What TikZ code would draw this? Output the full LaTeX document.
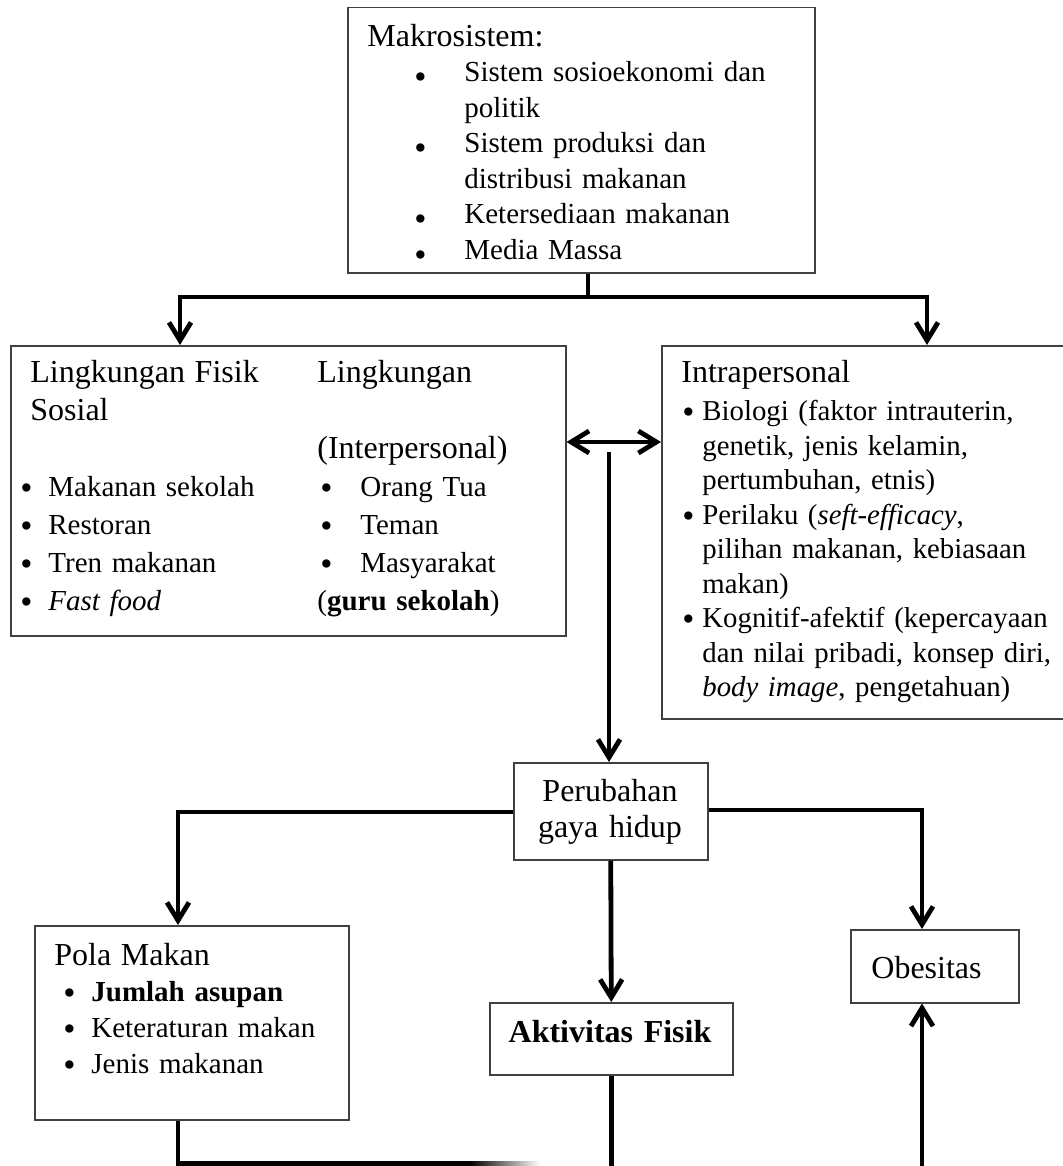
\documentclass[tikz,border=0pt]{standalone}
\usepackage{fontspec}
\setmainfont{Liberation Serif}
\usetikzlibrary{arrows.meta}
\newcommand\bitem[2]{\hspace*{#1}\makebox[#2][l]{\raisebox{-1.5pt}{\scalebox{1.2}{\textbullet}}}}
\newcommand\bigbitem[2]{\hspace*{#1}\makebox[#2][l]{\raisebox{-3.5pt}{\scalebox{1.2}{\textbullet}}}}
\newcommand\head{\fontsize{16}{18}\selectfont}

\begin{document}
\begin{tikzpicture}[
  x=0.5pt, y=-0.5pt,
  box/.style={draw=black!75, line width=0.75pt, anchor=north west, inner sep=0pt},
  txt/.style={anchor=base west, inner sep=0pt, align=left, text width=240pt},
  wire/.style={line width=2.4pt},
  flow/.style={wire, -{Straight Barb[length=9pt,width=11pt]}},
  both/.style={wire, {Straight Barb[length=9pt,width=11pt]}-{Straight Barb[length=9pt,width=11pt]}},
]
\path[use as bounding box, fill=white] (0,0) rectangle (1062,1166);

\node[box, minimum width=233.5pt, minimum height=132.5pt] (makro) at (347,7) {};
\node[box, minimum width=277.5pt, minimum height=145pt] (fisik) at (10,345) {};
\node[box, minimum width=205pt, minimum height=186.5pt] (intra) at (661,345) {};
\node[box, minimum width=97pt, minimum height=48.5pt] (ubah) at (513,762) {};
\node[box, minimum width=157pt, minimum height=97pt] (pola) at (34,925) {};
\node[box, minimum width=121.5pt, minimum height=36pt] (aktif) at (489,1002) {};
\node[box, minimum width=84pt, minimum height=36.5pt] (obes) at (850,929) {};

\node[txt, font=\fontsize{14.5}{17.75}\selectfont] (makro-t) at (367,46.5) {
  {\head Makrosistem:}\\
  \bigbitem{23.5pt}{25pt}Sistem sosioekonomi dan\\
  \hspace*{48.5pt}politik\\
  \bigbitem{23.5pt}{25pt}Sistem produksi dan\\
  \hspace*{48.5pt}distribusi makanan\\
  \bigbitem{23.5pt}{25pt}Ketersediaan makanan\\
  \bigbitem{23.5pt}{25pt}Media Massa};
\node[txt, text width=140pt, font=\fontsize{14.5}{19}\selectfont] (fisik-a) at (20,382) {
  \hspace*{5pt}{\head Lingkungan Fisik}\\
  \hspace*{5pt}{\head Sosial}\\
  \mbox{}\\
  \bitem{0pt}{14pt}Makanan sekolah\\
  \bitem{0pt}{14pt}Restoran\\
  \bitem{0pt}{14pt}Tren makanan\\
  \bitem{0pt}{14pt}\textit{Fast food}};
\node[txt, text width=120pt, font=\fontsize{14.5}{19}\selectfont] (fisik-b) at (317,382) {
  {\head Lingkungan}\\
  \mbox{}\\
  {\head (Interpersonal)}\\
  \bitem{1.5pt}{20pt}Orang Tua\\
  \bitem{1.5pt}{20pt}Teman\\
  \bitem{1.5pt}{20pt}Masyarakat\\
  (\textbf{guru sekolah})};
\node[txt, text width=200pt, font=\fontsize{14.4}{17.25}\selectfont] (intra-t) at (681,382) {
  {\head Intrapersonal}\\[2pt]
  \bitem{0.5pt}{10pt}Biologi (faktor intrauterin,\\
  \hspace*{10.5pt}genetik, jenis kelamin,\\
  \hspace*{10.5pt}pertumbuhan, etnis)\\
  \bitem{0.5pt}{10pt}Perilaku (\textit{seft-efficacy},\\
  \hspace*{10.5pt}pilihan makanan, kebiasaan\\
  \hspace*{10.5pt}makan)\\
  \bitem{0.5pt}{10pt}Kognitif-afektif (kepercayaan\\
  \hspace*{10.5pt}dan nilai pribadi, konsep diri,\\
  \hspace*{10.5pt}\textit{body image}, pengetahuan)};
\node[txt, anchor=base, align=center, text width=100pt, font=\head] (ubah-t) at (610,801) {Perubahan\\gaya hidup};
\node[txt, text width=150pt, font=\fontsize{14.5}{18}\selectfont] (pola-t) at (54,965) {
  {\head Pola Makan}\\
  \bitem{4.5pt}{14pt}\textbf{Jumlah asupan}\\
  \bitem{4.5pt}{14pt}Keteraturan makan\\
  \bitem{4.5pt}{14pt}Jenis makanan};
\node[txt, anchor=base, align=center, text width=120pt, font=\head\bfseries] (aktif-t) at (610,1042) {Aktivitas Fisik};
\node[txt, text width=80pt, font=\head] (obes-t) at (871,978) {Obesitas};

\coordinate (branch) at (588,297);
\coordinate (hub) at (609,452);
\coordinate (floor) at (0,1166);
\coordinate (fade) at (470,1163.5);

\draw[wire] ([xshift=120.5pt]makro.south west) -- (branch);
\draw[flow] (branch) -| ([xshift=85pt]fisik.north west);
\draw[flow] (branch) -| ([xshift=133pt]intra.north west);
\draw[both] ([yshift=-48.5pt]fisik.north east) -- ([yshift=-48.5pt]intra.north west);
\draw[flow] (hub) -- (hub |- ubah.north);
\draw[flow] ([yshift=-25pt]ubah.north west) -| ([xshift=72pt]pola.north west);
\draw[flow] ([yshift=-24pt]ubah.north east) -| ([xshift=36pt]obes.north west);
\draw[flow] (ubah.south) -- (aktif.north);
\draw[wire] (aktif.south) -- (aktif.south |- floor);
\draw[flow] ([xshift=36pt]obes.south west |- floor) -- ([xshift=36pt]obes.south west);
\draw[wire] ([xshift=72pt]pola.south west) |- (fade);
\shade[left color=black, right color=white] (470,1161.1) rectangle (540,1165.9);
\end{tikzpicture}
\end{document}
